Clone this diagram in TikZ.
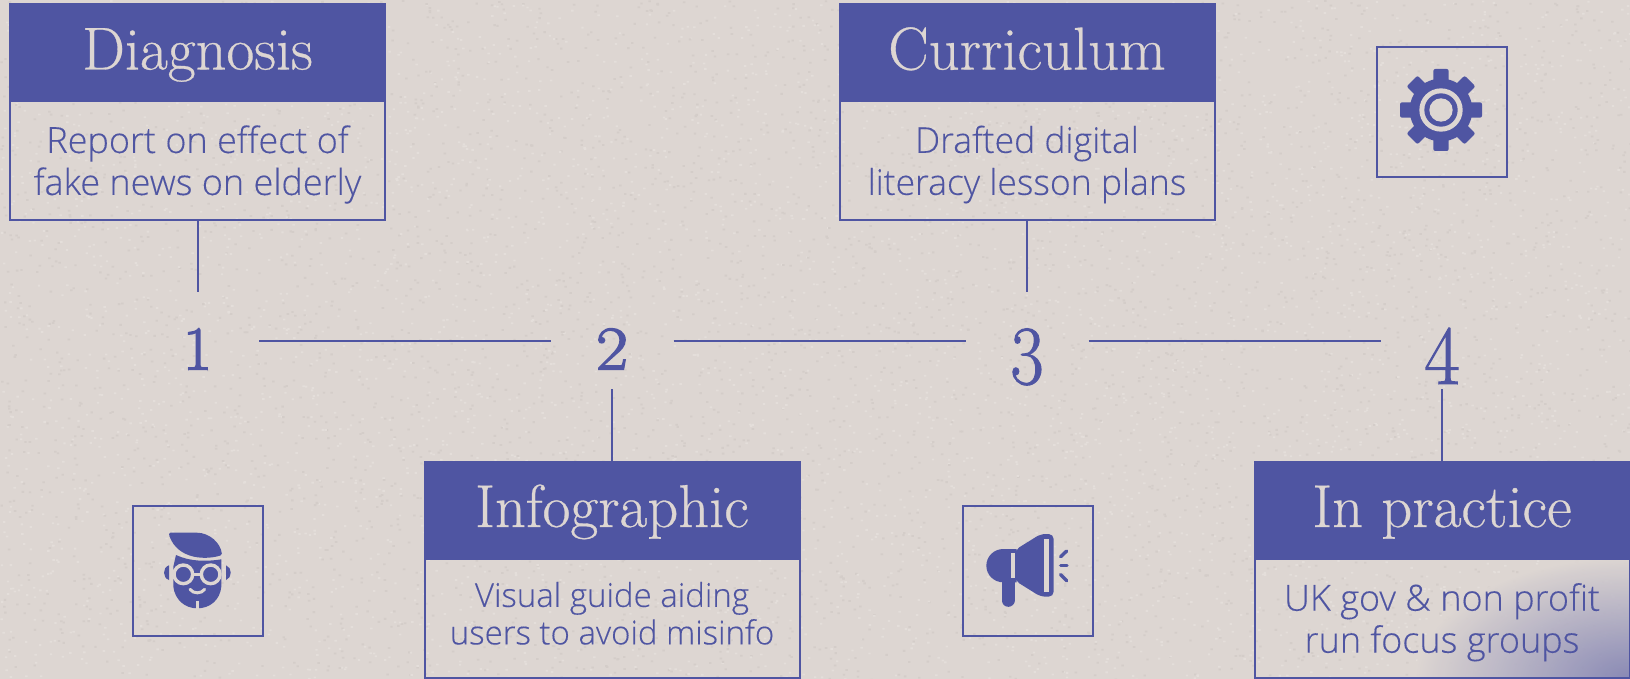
\documentclass[tikz,border=0pt]{standalone}
\usepackage{fontspec}
\setmainfont{Latin Modern Roman}
\newfontfamily\bodyf{Open Sans}[UprightFont=* Light,FakeBold=0.25]
\newfontfamily\headf{Latin Modern Roman}[FakeBold=0.5]
\newfontfamily\numf{Latin Modern Roman}[FakeBold=2.4]
\newfontfamily\numbf{Latin Modern Roman}[FakeBold=1.2]
\definecolor{bg}{HTML}{DDD6D2}
\definecolor{bglight}{HTML}{E4DEDA}
\definecolor{bgdark}{HTML}{D4CDC9}
\definecolor{ink}{HTML}{4F55A2}
\definecolor{corner}{HTML}{8081B2}
\pgfmathsetseed{11}
\tikzset{
  x=1pt,y=-1pt,outer sep=0pt,
  head/.style={fill=ink,draw=ink,line width=2pt,text=bg,anchor=north west,minimum width=375,minimum height=97,inner sep=0pt,text height=65.5,text depth=31.5,font=\headf\fontsize{60.5}{62}\selectfont},
  body/.style={draw=ink,line width=2pt,anchor=north west,minimum width=375,inner sep=0pt},
  bodytext/.style={text=ink,inner sep=0pt,align=center,font=\bodyf\fontsize{36}{42}\selectfont},
  bodysmall/.style={bodytext,font=\bodyf\fontsize{33}{37.5}\selectfont},
  num/.style={text=ink,minimum width=123,inner ysep=0pt,inner xsep=0pt,text height=77.5,text depth=19.5,font=\numf\fontsize{62}{64}\selectfont},
  numbig/.style={num,text height=92,text depth=5,font=\numbf\fontsize{84}{86}\selectfont},
  conn/.style={draw=ink,line width=2pt},
  frame/.style={draw=ink,line width=2pt,minimum size=130,inner sep=0pt},
}
\begin{document}
\begin{tikzpicture}
\useasboundingbox (0,0) rectangle (1630,679);
\fill[bg] (0,0) rectangle (1630,679);
% paper grain
\foreach \j in {1,...,30}{
  \fill[bglight] foreach \i in {1,...,150} {({rnd*1630},{rnd*679}) rectangle +(2.4,1.8)};
  \fill[bgdark] foreach \i in {1,...,150} {({rnd*1630},{rnd*679}) rectangle +(2.4,1.8)};
}
% corner glow
\begin{scope}
\clip (1256,560) rectangle (1630,679);
\shade[inner color=corner,outer color=bg,opacity=.9] (1630,679) ellipse (215 and 122);
\end{scope}
% numbers
\node[num] (n1) at (197.5,340.5) {1};
\node[num] (n2) at (612,340.5) {\scalebox{1.12}[1]{2}};
\node[numbig] (n3) at (1027,340.5) {\scalebox{0.86}[1]{3}};
\node[numbig] (n4) at (1442,340.5) {\scalebox{0.92}[1]{4}};
% boxes
\node[head] (h1) at (10,4) {Diagnosis};
\node[body,minimum height=119] (b1) at (10,101) {};
\node[bodytext] (t1) at ([yshift=-4pt]b1.center) {Report on effect of\\fake news on elderly};
\node[head] (h3) at (839.5,4) {Curriculum};
\node[body,minimum height=119] (b3) at (839.5,101) {};
\node[bodytext,font=\bodyf\fontsize{35.5}{42}\selectfont] (t3) at ([yshift=-4pt]b3.center) {Drafted digital\\literacy lesson plans};
\node[head] (h2) at (424.5,461.5) {Infographic};
\node[body,minimum height=119.5] (b2) at (424.5,558.5) {};
\node[bodysmall] (t2) at ([yshift=5pt]b2.center) {Visual guide aiding\\users to avoid misinfo};
\node[head] (h4) at (1254.5,461.5) {In practice};
\node[body,minimum height=119.5] (b4) at (1254.5,558.5) {};
\node[bodytext] (t4) at ([yshift=-4pt]b4.center) {UK gov \& non profit\\run focus groups};
% connectors
\draw[conn] (b1.south) -- (n1.north);
\draw[conn] (b3.south) -- (n3.north);
\draw[conn] (h2.north) -- (n2.south);
\draw[conn] (h4.north) -- (n4.south);
\draw[conn] (n1.east) -- (n2.west);
\draw[conn] (n2.east) -- (n3.west);
\draw[conn] (n3.east) -- (n4.west);
% icon frames
\node[frame] (f1) at (197.5,570.5) {};
\node[frame] (f3) at (1027.5,570.5) {};
\node[frame] (f4) at (1442,112) {};
% man
\begin{scope}[shift={(100,480)},scale=1/3]
\fill[ink,rounded corners=1.5pt] (207,158) -- (285,158) .. controls (330,158) and (362,190) .. (366,225) .. controls (320,240) and (235,240) .. (207,165) -- cycle;
\fill[ink] (228,225) .. controls (270,245) and (320,245) .. (364,238) -- (364,320) .. controls (360,360) and (330,385) .. (292,385) .. controls (255,385) and (225,360) .. (220,320) -- (220,260) -- cycle;
\fill[ink] (207,256) .. controls (187,262) and (187,294) .. (207,300) -- cycle;
\fill[ink] (378,256) .. controls (397,262) and (397,294) .. (378,300) -- cycle;
\draw[bg,line width=3.4pt,fill=ink] (250,283) circle (28);
\draw[bg,line width=3.4pt,fill=ink] (332,283) circle (28);
\draw[bg,line width=3.4pt] (278,283) -- (304,283);
\draw[bg,line width=3pt,line cap=round] (270,328) .. controls (280,342) and (304,342) .. (314,328);
\draw[bg,line width=2.7pt] (292,362) -- (292,388);
\end{scope}
% megaphone
\begin{scope}[shift={(940,490)},scale=1/3]
\fill[ink,rounded corners=5pt] (225,180) -- (302,132) -- (341,132) -- (341,320) -- (302,320) -- (225,272) -- cycle;
\fill[ink] (230,177) -- (190,177) .. controls (162,177) and (139,199) .. (139,227) .. controls (139,255) and (162,277) .. (190,277) -- (230,277) -- cycle;
\draw[ink,line width=13pt,line cap=round] (204,270) -- (204,331);
\fill[bg] (212,190) rectangle (226,263);
\fill[bg] (312,148) rectangle (327,306);
\draw[ink,line width=3.4pt,line cap=round] (362,200) -- (380,183);
\draw[ink,line width=3.4pt,line cap=round] (362,227) -- (381,227);
\draw[ink,line width=3.4pt,line cap=round] (362,254) -- (380,272);
\end{scope}
% gear
\begin{scope}[shift={(1441,110)},scale=1/3]
\fill[ink] (0,0) circle (94);
\foreach \a in {0,45,...,315}{
  \fill[ink,rotate=\a,rounded corners=2pt] (70,-23) rectangle (123,23);
}
\fill[bg] (0,0) circle (65);
\fill[ink] (0,0) circle (50);
\fill[bg] (0,0) circle (35);
\end{scope}
\end{tikzpicture}
\end{document}
